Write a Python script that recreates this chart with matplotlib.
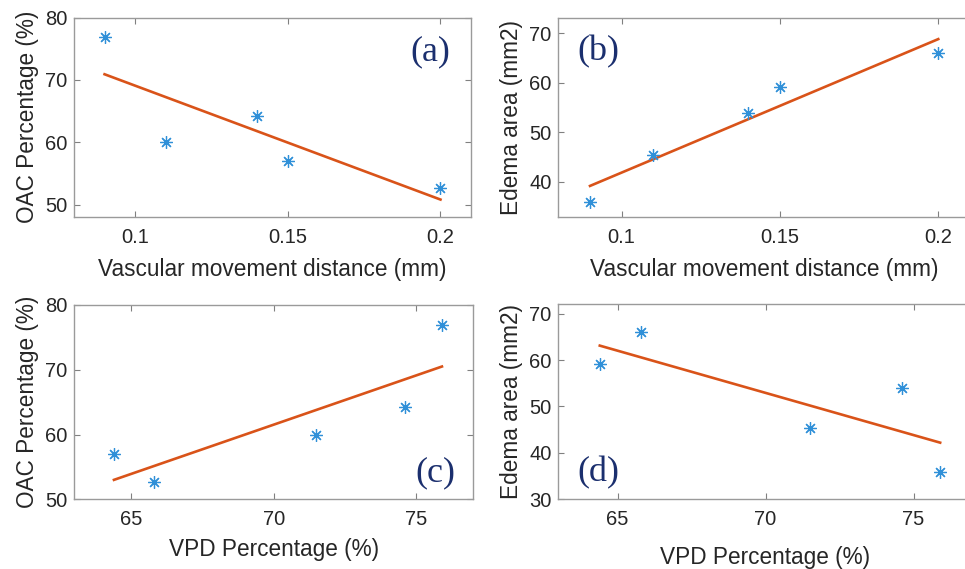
import matplotlib
matplotlib.use("Agg")
import matplotlib.pyplot as plt

# Data
dist = [0.09, 0.11, 0.14, 0.15, 0.20]           # vascular movement distance (mm)
vpd = [75.9, 71.5, 74.6, 64.4, 65.8]            # VPD percentage (%)
oac = [76.9, 60.0, 64.2, 57.0, 52.6]            # OAC percentage (%)
edema = [35.9, 45.4, 53.9, 59.1, 66.0]          # edema area (mm2)

# fitted lines (end points)
fit_a_x, fit_a_y = [0.09, 0.20], [70.9, 50.8]
fit_b_x, fit_b_y = [0.09, 0.20], [39.2, 68.8]
fit_c_x, fit_c_y = [64.4, 75.9], [53.0, 70.5]
fit_d_x, fit_d_y = [64.4, 75.9], [63.1, 42.2]

txt = '#262626'
star = '#3090d8'
orange = '#D95319'
navy = '#1b2f6e'

plt.rcParams['font.family'] = ['Liberation Sans', 'DejaVu Sans']

fig = plt.figure(figsize=(9.65, 5.69), dpi=100)

def panel(pos, x, y, fx, fy, xlim, ylim, xt, xtl, yt, xlab, ylab, tag, tagpos, xpad, right=True):
    ax = fig.add_axes(pos)
    ax.plot(fx, fy, color=orange, lw=1.9, zorder=2)
    ax.plot(x, y, ls='none', marker=(8, 2, 0), ms=9, mew=0.9, color=star, zorder=3)
    ax.set_xlim(xlim)
    ax.set_ylim(ylim)
    ax.set_xticks(xt)
    ax.set_xticklabels(xtl)
    ax.set_yticks(yt)
    ax.tick_params(direction='in', length=4, width=0.8, color='#808080',
                   labelsize=14.5, labelcolor=txt, top=True, right=right)
    ax.tick_params(axis='x', pad=8)
    ax.tick_params(axis='y', pad=5)
    for s in ax.spines.values():
        s.set_color('#9a9a9a')
        s.set_linewidth(1.0)
    ax.set_xlabel(xlab, fontsize=16.3, color=txt, labelpad=xpad)
    ax.set_ylabel(ylab, fontsize=16.3, color=txt, labelpad=4)
    ax.text(tagpos[0], tagpos[1], tag, transform=ax.transAxes, fontsize=26,
            family='Liberation Serif', color=navy, ha='center', va='center')
    return ax

panel([0.0767, 0.6186, 0.4114, 0.3506], dist, oac, fit_a_x, fit_a_y,
      (0.08, 0.21), (48, 80), [0.1, 0.15, 0.2], ['0.1', '0.15', '0.2'],
      [50, 60, 70, 80], 'Vascular movement distance (mm)', 'OAC Percentage (%)',
      '(a)', (0.898, 0.83), 8)

panel([0.5786, 0.6192, 0.4265, 0.3487], dist, edema, fit_b_x, fit_b_y,
      (0.08, 0.21), (33, 73), [0.1, 0.15, 0.2], ['0.1', '0.15', '0.2'],
      [40, 50, 60, 70], 'Vascular movement distance (mm)', 'Edema area (mm2)',
      '(b)', (0.097, 0.83), 8, right=False)

panel([0.0767, 0.1225, 0.4138, 0.3415], vpd, oac, fit_c_x, fit_c_y,
      (63, 77), (50, 80), [65, 70, 75], ['65', '70', '75'],
      [50, 60, 70, 80], 'VPD Percentage (%)', 'OAC Percentage (%)',
      '(c)', (0.905, 0.135), 6)

panel([0.5786, 0.1225, 0.4294, 0.3427], vpd, edema, fit_d_x, fit_d_y,
      (63, 77), (30, 72), [65, 70, 75], ['65', '70', '75'],
      [30, 40, 50, 60, 70], 'VPD Percentage (%)', 'Edema area (mm2)',
      '(d)', (0.097, 0.135), 12, right=False)

fig.savefig('out.png', dpi=100)
